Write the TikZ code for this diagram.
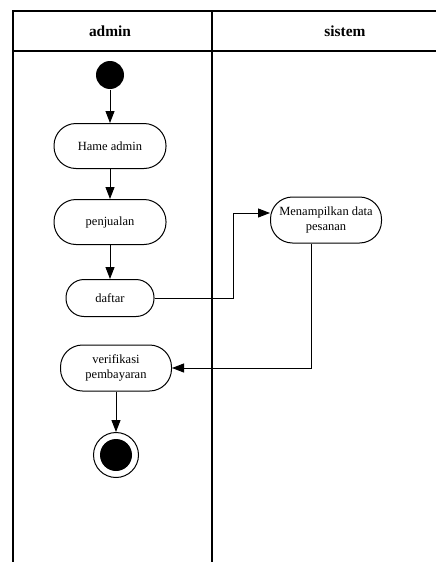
\documentclass[tikz,border=0pt]{standalone}
\usepackage{fontspec}
\setmainfont{Liberation Serif}
\usetikzlibrary{calc,positioning,arrows.meta}
\tikzstyle{act} = [draw, rectangle, rounded corners=22pt,
    minimum height=45pt, minimum width=112pt, align=center,
    inner sep=2pt, font=\fontsize{12.5}{15}\selectfont]
\tikzstyle{lane} = [draw, line width=1.1pt]
\tikzstyle{lanehead} = [font=\fontsize{15.4}{18}\selectfont\bfseries]
\tikzset{
  startdot/.style={circle, fill=black, minimum size=28pt, inner sep=0pt},
  endring/.style={circle, draw, minimum size=45pt, inner sep=0pt},
  enddot/.style={circle, fill=black, minimum size=32pt, inner sep=0pt}
}

\begin{document}
\begin{tikzpicture}[x=1pt,y=-1pt,line width=1pt,
    >={Triangle[length=12pt,width=9pt]}]
\useasboundingbox (0,0) rectangle (436,562);

% swimlanes
\draw[lane] (13,562) |- (436,11);
\draw[lane] (13,51) -- (436,51);
\draw[lane] (212,11) -- (212,562);
\node (lane_admin) [lanehead] at (110,31) {admin};
\node (lane_sistem) [lanehead] at (345,31) {sistem};

% admin
\node (start) [startdot] at (110,75) {};
\node (hame) [act] at (110,146) {Hame admin};
\node (penjualan) [act] at (110,222) {penjualan};
\node (daftar) [act,minimum width=88pt,minimum height=37pt,rounded corners=18pt] at (110,298) {daftar};
\node (verif) [act,minimum width=111pt,minimum height=46pt] at (116,368) {verifikasi\\pembayaran};
\node (end_ring) [endring] at (116,455) {};
\node (end_dot) [enddot] at (end_ring) {};

% sistem
\node (tampil) [act,minimum width=111pt,minimum height=46pt] at (326,220) {Menampilkan data\\pesanan};

\coordinate (bend_up) at (233,213);
\coordinate (drop) at (311,369);

\draw[->] (start) -- (hame);
\draw[->] (hame) -- (penjualan);
\draw[->] (penjualan) -- (daftar);
\draw[->] (daftar) -| (bend_up) -- (bend_up -| tampil.west);
\draw[->] (drop |- tampil.south) |- (verif);
\draw[->] (verif) -- (end_ring);

\end{tikzpicture}
\end{document}
